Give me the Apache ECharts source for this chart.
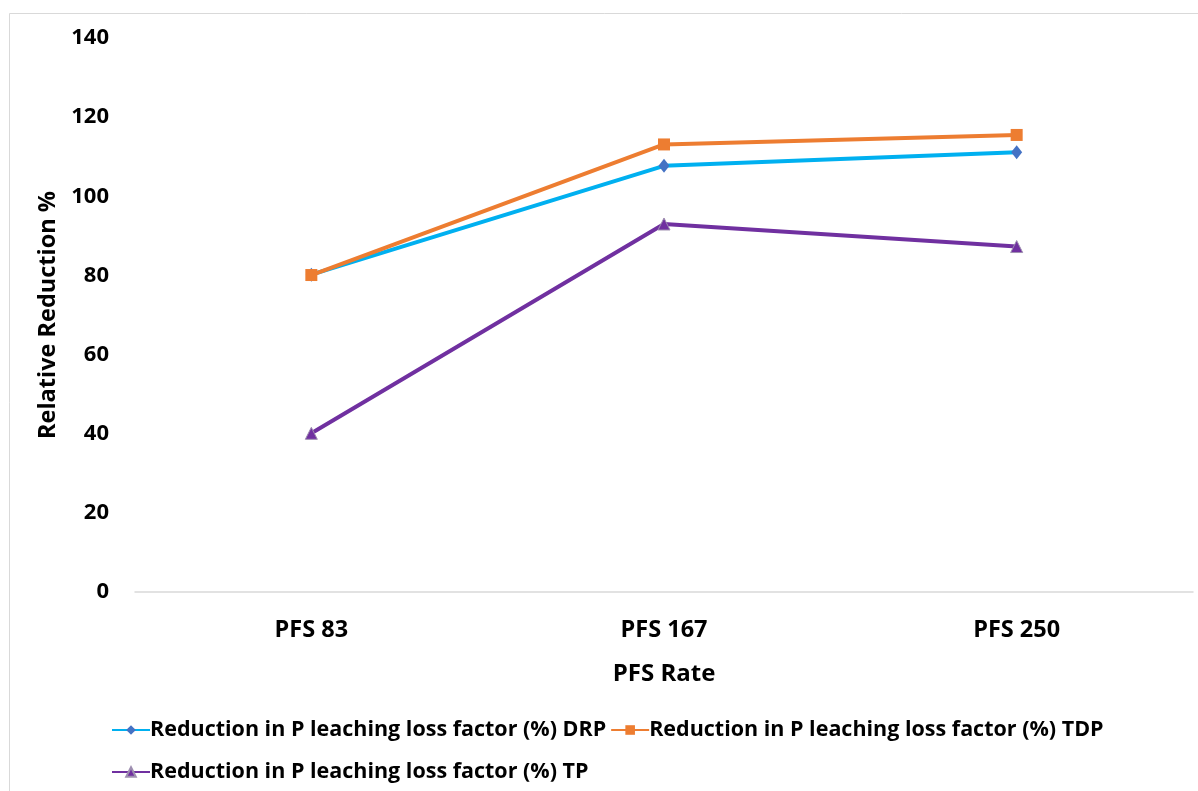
<!DOCTYPE html>
<html>
<head>
<meta charset="utf-8">
<script src="https://cdn.jsdelivr.net/npm/echarts@6/dist/echarts.min.js"></script>
<style>
  html, body { margin: 0; padding: 0; background: #fff; }
  #chart { width: 1198px; height: 791px; }
</style>
</head>
<body>
<div id="chart"></div>
<script>
// PFS application rates
const categories = ['PFS 83', 'PFS 167', 'PFS 250'];

// Reduction in P leaching loss factor (%)
const drpValues = [80.2, 107.7, 111.1];
const tdpValues = [80.1, 113.1, 115.5];
const tpValues  = [40.1, 93.0, 87.3];

const yTicks = { min: 0, max: 140, interval: 20 };

const seriesNames = [
  'Reduction in P leaching loss factor (%) DRP',
  'Reduction in P leaching loss factor (%) TDP',
  'Reduction in P leaching loss factor (%) TP'
];

const FONT = '"Open Sans"';
const chart = echarts.init(document.getElementById('chart'));

const legendText = { fontFamily: FONT, fontWeight: 'bold', fontSize: 21.5, color: '#000', padding: [0, 0, 0, -5] };

chart.setOption({
  backgroundColor: '#ffffff',
  animation: false,
  textStyle: { fontFamily: FONT, fontWeight: 'bold', color: '#000' },
  graphic: [{
    type: 'rect',
    shape: { x: 9.5, y: 13.5, width: 1200, height: 800 },
    style: { fill: 'none', stroke: '#d9d9d9', lineWidth: 1 },
    silent: true
  }],
  grid: { left: 135, right: 5, top: 38, bottom: 199 },
  legend: [{
    data: [seriesNames[0], seriesNames[1]],
    left: 106, top: 714,
    itemWidth: 38, itemHeight: 12, itemGap: 4,
    textStyle: legendText
  }, {
    data: [seriesNames[2]],
    left: 106, top: 756,
    itemWidth: 38, itemHeight: 12, itemGap: 4,
    textStyle: legendText
  }],
  xAxis: {
    type: 'category',
    data: categories,
    boundaryGap: true,
    name: 'PFS Rate',
    nameLocation: 'middle',
    nameGap: 70,
    nameTextStyle: { fontFamily: FONT, fontWeight: 'bold', fontSize: 24, color: '#000' },
    axisLine: { lineStyle: { color: '#d9d9d9', width: 1.5 } },
    axisTick: { show: false },
    axisLabel: { fontFamily: FONT, fontWeight: 'bold', fontSize: 23.5, color: '#000', margin: 26 }
  },
  yAxis: {
    type: 'value',
    min: yTicks.min, max: yTicks.max, interval: yTicks.interval,
    name: 'Relative Reduction %',
    nameLocation: 'middle',
    nameGap: 75,
    nameTextStyle: { fontFamily: FONT, fontWeight: 'bold', fontSize: 23.5, color: '#000' },
    axisLine: { show: false },
    axisTick: { show: false },
    splitLine: { show: false },
    axisLabel: { fontFamily: FONT, fontWeight: 'bold', fontSize: 22, color: '#000', margin: 26 }
  },
  series: [{
    name: seriesNames[0],
    type: 'line',
    data: drpValues,
    symbol: 'diamond',
    symbolSize: [11, 14],
    lineStyle: { color: '#00B0F0', width: 4 },
    itemStyle: { color: '#4472C4' },
    z: 3
  }, {
    name: seriesNames[1],
    type: 'line',
    data: tdpValues,
    symbol: 'rect',
    symbolSize: 12,
    lineStyle: { color: '#ED7D31', width: 4 },
    itemStyle: { color: '#ED7D31' },
    z: 4
  }, {
    name: seriesNames[2],
    type: 'line',
    data: tpValues,
    symbol: 'triangle',
    symbolSize: 12,
    lineStyle: { color: '#7030A0', width: 4 },
    itemStyle: { color: '#7030A0', borderColor: '#9e8fb0', borderWidth: 1 },
    z: 2
  }]
});
</script>
</body>
</html>
